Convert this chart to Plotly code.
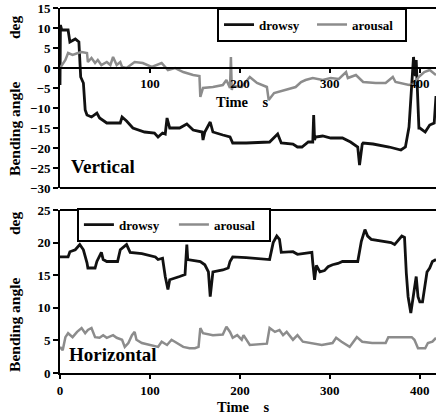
import plotly.graph_objects as go

# ---- Vertical (top panel) ----
v_drowsy_t = [0, 0.5, 2, 9, 11, 17, 21, 23, 26, 28, 30, 35, 41, 44, 52, 59, 67, 69, 74, 81, 94, 105, 109, 114, 117, 119, 122,
              133, 141, 148, 158, 159, 161, 167, 170, 181, 189, 192, 207, 233, 239, 242, 246, 259, 264, 269, 276, 281, 282,
              283, 284, 292, 301, 314, 323, 331, 333, 336, 337, 348, 366, 379, 384, 388, 393, 395, 396, 399, 400, 406, 411, 416, 418]
v_drowsy_v = [-4.25, 10.75, 9.5, 9.5, 6.5, 7.25, 6.5, -2.25, -3.75, -10.5, -11.75, -12.25, -11.25, -12.5, -13.75, -13.75, -13.75,
              -12.25, -13.25, -15, -16, -16.25, -17.25, -16.25, -16.5, -12.5, -15,
              -15, -14, -15.5, -16, -18, -16, -13.5, -16, -16.75, -17.25, -18.75, -18.75, -18.5, -17.25, -16.5, -18.75, -19,
              -19.75, -19.75, -18.5, -18.5, -11.75, -18, -17.25, -17, -17.5, -17.5, -18.5, -19.75, -24.25, -19, -18.75, -19,
              -19.75, -20.5, -19.75, -14.75, 2.75, -2, 2, -15, -15, -16, -14.25, -13.75, -7]

v_arousal_t = [0, 6, 9, 14, 20, 24, 30, 31, 35, 39, 42, 46, 52, 56, 59, 63, 67, 69, 74, 83, 92, 102, 113, 120, 128, 137, 148,
               155, 156, 159, 170, 181, 185, 187, 189, 190, 191, 192, 202, 211, 219, 230, 232, 238, 251, 262, 268, 273, 281,
               292, 301, 310, 318, 320, 329, 337, 351, 362, 370, 373, 388, 392, 400, 405, 411, 418]
v_arousal_v = [0, 2, 3.75, 3.25, 3.75, 4, 3.75, 1.5, 2.5, 1.25, 2, 0.75, 1.5, 0.75, 2.75, 0.75, 1.5, 0.25, 0, 1.5, 1.25, 0.25,
               1.25, -0.5, 0, -1, -1.75, -2, -7.25, -5, -4.75, -4.25, -3, -4.25, -5, 2.75, -5.5, -4.5, -4.75, -2.25, -3.75,
               -4.75, -8, -6.25, -5.5, -4.75, -3.5, -3, -2.5, -3, -2.5, -2.75, -1, -2.5, -1.75, -3.5, -3.75, -3.75, -2.25,
               -3.5, -4.25, -4, -2, -1, -0.5, -1.75]

# ---- Horizontal (bottom panel) ----
h_drowsy_t = [0, 9, 11, 17, 22, 26, 30, 31, 39, 41, 46, 48, 52, 64, 67, 74, 78, 91, 106, 109, 114, 117, 120, 122, 133, 139, 141,
              142, 156, 161, 165, 167, 170, 181, 187, 189, 192, 207, 233, 237, 241, 244, 246, 259, 264, 278, 280, 281, 283,
              285, 289, 294, 298, 303, 309, 314, 331, 335, 339, 342, 346, 368, 372, 380, 383, 385, 387, 390, 392, 396, 398,
              400, 403, 408, 411, 414, 418]
h_drowsy_v = [17.8, 17.8, 18.6, 18.9, 19.7, 18.9, 16.9, 16.1, 16.1, 17.1, 18.5, 17.4, 17.1, 17.1, 18.9, 19.7, 18.5, 18.3, 17.8,
              17.4, 17.6, 14.8, 12.8, 14.3, 14.8, 15.1, 19.7, 17.4, 17.1, 16.6, 15.5, 11.7, 15.5, 15.8, 16.1, 17.1, 17.8, 17.7,
              17.4, 20, 21, 20.5, 18.5, 18.6, 18.2, 18.5, 18.5, 16.9, 14.3, 16.5, 15.5, 15.7, 16.3, 16.6, 16.8, 17.1, 17.1,
              20.2, 22, 21, 20.5, 20, 19.7, 21, 20.8, 15.3, 11.7, 9.2, 11.2, 14.8, 11.7, 10.9, 10.9, 15.5, 16.1, 17.1, 17.4]

h_arousal_t = [0, 3, 6, 9, 14, 19, 24, 28, 31, 35, 39, 44, 48, 52, 59, 63, 69, 72, 76, 80, 83, 85, 91, 102, 109, 113, 119, 124,
               130, 137, 144, 150, 154, 156, 159, 170, 181, 185, 189, 192, 197, 202, 204, 207, 211, 230, 233, 239, 244, 248,
               252, 259, 264, 270, 278, 291, 303, 307, 313, 322, 330, 336, 347, 362, 365, 391, 394, 398, 406, 409, 414, 418]
h_arousal_v = [4, 3.5, 5.5, 6.1, 5.5, 6.3, 6.9, 6.1, 6.6, 6.9, 5.5, 5.4, 5.8, 5.4, 5.8, 5.4, 5.1, 4, 4.6, 5.8, 6.3, 5.1, 4.6, 4.3,
               4, 4.8, 4.3, 5.1, 4.6, 4, 3.8, 3.8, 4, 6.9, 6.1, 5.8, 5.9, 7.1, 6.3, 5.4, 5.8, 5.1, 5.8, 5.1, 4.3, 4.5, 6.9, 6.3,
               6.6, 5.8, 6.3, 5.1, 5.8, 4.8, 4.6, 4.3, 4.6, 5.4, 4.8, 4, 5.5, 4.8, 4.6, 4.6, 5.5, 5.5, 5.1, 3.8, 3.8, 4.6, 4.8, 5.4]

top_xticks = [100, 200, 300, 400]
bottom_xticks = [0, 100, 200, 300, 400]

FONT = "Liberation Serif"
BLACK = "#111111"
GRAY = "#8c8c8c"

fig = go.Figure()
fig.add_trace(go.Scatter(x=v_drowsy_t, y=v_drowsy_v, mode="lines", name="drowsy",
                         line=dict(color=BLACK, width=2.8), xaxis="x", yaxis="y", legend="legend"))
fig.add_trace(go.Scatter(x=v_arousal_t, y=v_arousal_v, mode="lines", name="arousal",
                         line=dict(color=GRAY, width=2.5), xaxis="x", yaxis="y", legend="legend"))
fig.add_trace(go.Scatter(x=h_drowsy_t, y=h_drowsy_v, mode="lines", name="drowsy",
                         line=dict(color=BLACK, width=2.8), xaxis="x2", yaxis="y2", legend="legend2"))
fig.add_trace(go.Scatter(x=h_arousal_t, y=h_arousal_v, mode="lines", name="arousal",
                         line=dict(color=GRAY, width=2.5), xaxis="x2", yaxis="y2", legend="legend2"))

tickfont = dict(family=FONT, size=13, color="black", weight="bold")
common_x = dict(range=[0, 418], showgrid=False, zeroline=False, showline=True, linecolor="black",
                ticks="outside", ticklen=4, tickwidth=2, tickcolor="black", tickfont=tickfont)
common_y = dict(showgrid=False, zeroline=False, showline=True, linecolor="black", linewidth=2,
                ticks="outside", ticklen=5, tickwidth=1.5, tickcolor="black", tickfont=tickfont, dtick=5)

top_dom = [0.5068, 1.0]
bot_dom = [0.0, 0.4466]
legfont = dict(family=FONT, size=13, color="black", weight="bold")

fig.update_layout(
    width=436, height=419,
    margin=dict(l=60, r=0, t=8, b=46),
    paper_bgcolor="white", plot_bgcolor="white",
    xaxis=dict(**common_x, anchor="free", position=0.8356, linewidth=1.5, tickvals=top_xticks),
    yaxis=dict(**common_y, domain=top_dom, range=[-30, 15], anchor="x"),
    xaxis2=dict(**common_x, anchor="y2", linewidth=2, tickvals=bottom_xticks),
    yaxis2=dict(**common_y, domain=bot_dom, range=[0, 25], anchor="x2"),
    legend=dict(orientation="h", x=0.4176, y=1.001, xanchor="left", yanchor="top",
                bordercolor="black", borderwidth=2, bgcolor="white", font=legfont,
                entrywidth=48, entrywidthmode="pixels"),
    legend2=dict(orientation="h", x=0.045, y=0.453, xanchor="left", yanchor="top",
                 bordercolor="black", borderwidth=2, bgcolor="white", font=legfont,
                 entrywidth=50, entrywidthmode="pixels"),
    showlegend=True,
)

# frame lines
for xr, yr, yy in [("x domain", "y domain", 1), ("x domain", "y domain", 0), ("x2 domain", "y2 domain", 1)]:
    fig.add_shape(type="line", xref=xr, yref=yr, x0=0, x1=1, y0=yy, y1=yy,
                  line=dict(color="black", width=2))

ann_font = dict(family=FONT, color="black", weight="bold")
title_txt = "Bending angle" + "\u00a0" * 11 + "deg"
fig.add_annotation(text=title_txt, xref="paper", yref="paper", x=-0.1197, y=0.759, textangle=-90,
                   showarrow=False, xanchor="center", yanchor="middle", font=dict(size=15.5, **ann_font))
fig.add_annotation(text=title_txt, xref="paper", yref="paper", x=-0.1197, y=0.222, textangle=-90,
                   showarrow=False, xanchor="center", yanchor="middle", font=dict(size=15.5, **ann_font))
time_txt = "Time" + "\u00a0" * 4 + "s"
fig.add_annotation(text=time_txt, xref="x domain", yref="y", x=0.484, y=-8.5, showarrow=False,
                   xanchor="center", yanchor="middle", font=dict(size=14.5, **ann_font))
fig.add_annotation(text=time_txt, xref="x2 domain", yref="paper", x=0.487, y=-0.093, showarrow=False,
                   xanchor="center", yanchor="middle", font=dict(size=14.5, **ann_font))
fig.add_annotation(text="Vertical", xref="x domain", yref="y", x=0.024, y=-24.5, showarrow=False,
                   xanchor="left", yanchor="middle", font=dict(size=19, **ann_font))
fig.add_annotation(text="Horizontal", xref="x2 domain", yref="y2", x=0.019, y=2.8, showarrow=False,
                   xanchor="left", yanchor="middle", font=dict(size=19, **ann_font))

fig.write_html("out.html", config={"displayModeBar": False},
               post_script="document.body.style.margin='0';")
